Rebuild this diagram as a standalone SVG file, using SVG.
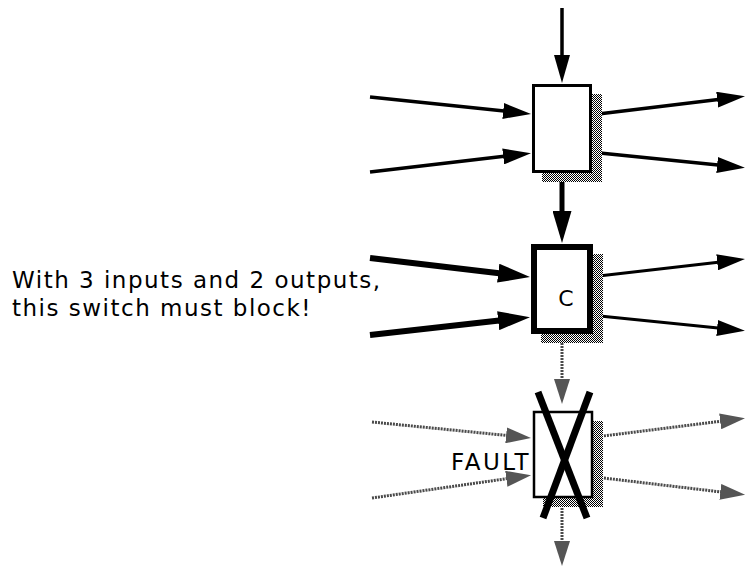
<svg xmlns="http://www.w3.org/2000/svg" width="746" height="569" viewBox="0 0 746 569">
<style>
.lbl{font-family:"DejaVu Sans","Liberation Sans",sans-serif;fill:#000;font-size:23px;letter-spacing:1.5px}
.box{fill:#fff;stroke:#000}
.shadow{fill:url(#dither)}
.c{fill:none;stroke:#000;stroke-linecap:butt}
.g{fill:none;stroke:#4a4a4a;stroke-width:3;stroke-dasharray:2 1}
.x{stroke:#000;stroke-width:7;stroke-linecap:butt}
</style>
<defs>
<pattern id="dither" width="2" height="2" patternUnits="userSpaceOnUse">
<rect width="2" height="2" fill="#fff"/>
<rect width="1" height="1" fill="#000"/>
<rect x="1" y="1" width="1" height="1" fill="#000"/>
</pattern>
<marker id="ah" markerUnits="userSpaceOnUse" viewBox="0 -8 28 16" refX="1" refY="0" markerWidth="28" markerHeight="16" orient="auto">
<path d="M0,-8 L28,0 L0,8 Z" fill="#000"/>
</marker>
<marker id="ahb" markerUnits="userSpaceOnUse" viewBox="0 -9.5 32 19" refX="1" refY="0" markerWidth="32" markerHeight="19" orient="auto">
<path d="M0,-9.5 L32,0 L0,9.5 Z" fill="#000"/>
</marker>
<marker id="ahg" markerUnits="userSpaceOnUse" viewBox="0 -8 25 16" refX="1" refY="0" markerWidth="25" markerHeight="16" orient="auto">
<path d="M0,-8 L25,0 L0,8 Z" fill="#555"/>
</marker>
</defs>

<g id="connectors">
<!-- top switch -->
<line class="c" x1="562" y1="8" x2="562" y2="56" stroke-width="3.5" marker-end="url(#ah)"/>
<line class="c" x1="370" y1="97" x2="504.2" y2="111.1" stroke-width="3.5" marker-end="url(#ah)"/>
<line class="c" x1="370" y1="172" x2="504.2" y2="156.3" stroke-width="3.5" marker-end="url(#ah)"/>
<line class="c" x1="590" y1="115" x2="718.2" y2="99.5" stroke-width="3.5" marker-end="url(#ah)"/>
<line class="c" x1="590" y1="152" x2="718.1" y2="165.1" stroke-width="3.5" marker-end="url(#ah)"/>
<line class="c" x1="562" y1="172" x2="562" y2="212" stroke-width="5" marker-end="url(#ahb)"/>
<!-- middle switch -->
<line class="c" x1="370" y1="258" x2="499.2" y2="273.3" stroke-width="6" marker-end="url(#ahb)"/>
<line class="c" x1="370" y1="335" x2="499.2" y2="320.6" stroke-width="6" marker-end="url(#ahb)"/>
<line class="c" x1="590" y1="277" x2="718.2" y2="262.2" stroke-width="3" marker-end="url(#ah)"/>
<line class="c" x1="590" y1="315" x2="718.1" y2="328.1" stroke-width="3" marker-end="url(#ah)"/>
<line class="g" x1="562" y1="340" x2="562" y2="380" marker-end="url(#ahg)"/>
<!-- faulty switch -->
<line class="g" x1="372" y1="422" x2="507.1" y2="435.5" marker-end="url(#ahg)"/>
<line class="g" x1="372" y1="498" x2="507.3" y2="478.6" marker-end="url(#ahg)"/>
<line class="g" x1="595" y1="437" x2="721.2" y2="421.2" marker-end="url(#ahg)"/>
<line class="g" x1="595" y1="477" x2="721.3" y2="492.0" marker-end="url(#ahg)"/>
<line class="g" x1="562" y1="505" x2="562" y2="542" marker-end="url(#ahg)"/>
</g>

<g id="switch-top">
<rect class="shadow" x="542" y="94" width="60" height="88"/>
<rect class="box" x="533.5" y="85.5" width="57" height="86" stroke-width="3"/>
</g>

<g id="switch-c">
<rect class="shadow" x="541" y="254" width="62" height="89"/>
<rect class="box" x="534" y="247" width="56" height="84" stroke-width="6"/>
<text class="lbl" x="566" y="306" text-anchor="middle" style="font-size:22px;letter-spacing:0">C</text>
</g>

<g id="switch-fault">
<rect class="shadow" x="543" y="421" width="60" height="86"/>
<rect class="box" x="534" y="412" width="58" height="85" stroke-width="2.5"/>
<line class="x" x1="538" y1="392" x2="587" y2="518"/>
<line class="x" x1="590" y1="392" x2="543" y2="518"/>
<text class="lbl" x="531" y="470" text-anchor="end" style="letter-spacing:2.5px">FAULT</text>
</g>

<g id="note">
<text class="lbl" x="12" y="288">With 3 inputs and 2 outputs,</text>
<text class="lbl" x="12" y="316">this switch must block!</text>
</g>
</svg>
